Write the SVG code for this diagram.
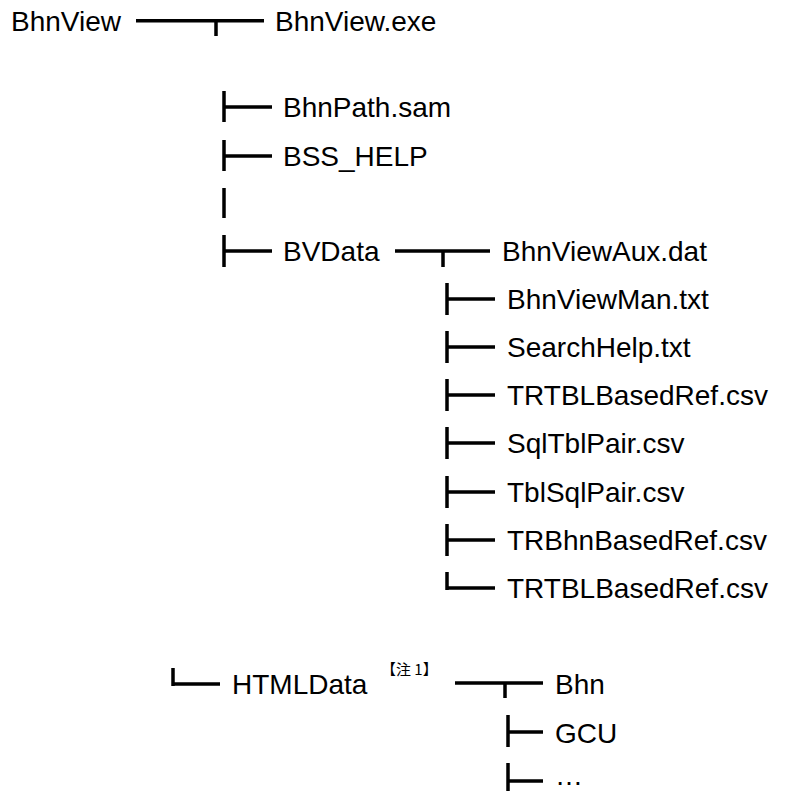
<svg xmlns="http://www.w3.org/2000/svg" width="785" height="791" viewBox="0 0 785 791">
<style>
  .t { font-family: "Liberation Sans", Arial, sans-serif; font-size: 28px; fill: #000; }
  .n { font-family: "Noto Sans CJK JP", "Liberation Sans", sans-serif; font-size: 15px; fill: #000; }
  .c { stroke: #000; stroke-width: 3.5; fill: none; stroke-linecap: butt; }
</style>
<rect width="785" height="791" fill="#fff"/>
<g id="connectors">
  <path class="c" d="M136 20.7H264M216 20.7V36"/>
  <path class="c" d="M224 91V122M224 107H272"/>
  <path class="c" d="M224 140V171M224 156H272"/>
  <path class="c" d="M224 188V218"/>
  <path class="c" d="M224 235V267M224 251H272"/>
  <path class="c" d="M395 251H490M443 251V267"/>
  <path class="c" d="M447 283V315M447 299H495"/>
  <path class="c" d="M447 331V363M447 347H495"/>
  <path class="c" d="M447 379V411M447 395H495"/>
  <path class="c" d="M447 427V459M447 443H495"/>
  <path class="c" d="M447 476V508M447 492H495"/>
  <path class="c" d="M447 524V556M447 540H495"/>
  <path class="c" d="M447 572V590M445.25 588H495"/>
  <path class="c" d="M173 668V686M171.25 684H220"/>
  <path class="c" d="M455 683H543M505 683V698"/>
  <path class="c" d="M508 715V747M508 732H543"/>
  <path class="c" d="M508 763V795M508 781H543"/>
</g>
<g id="n-bhnview"><text class="t" x="11" y="31">BhnView</text></g>
<g id="n-bhnview-exe"><text class="t" x="275" y="31">BhnView.exe</text></g>
<g id="n-bhnpath"><text class="t" x="283" y="117">BhnPath.sam</text></g>
<g id="n-bss-help"><text class="t" x="283" y="166">BSS_HELP</text></g>
<g id="n-bvdata"><text class="t" x="283" y="261">BVData</text></g>
<g id="n-bhnviewaux"><text class="t" x="502" y="261">BhnViewAux.dat</text></g>
<g id="n-bhnviewman"><text class="t" x="507" y="309">BhnViewMan.txt</text></g>
<g id="n-searchhelp"><text class="t" x="507" y="357">SearchHelp.txt</text></g>
<g id="n-trtbl1"><text class="t" x="507" y="405">TRTBLBasedRef.csv</text></g>
<g id="n-sqltblpair"><text class="t" x="507" y="453">SqlTblPair.csv</text></g>
<g id="n-tblsqlpair"><text class="t" x="507" y="502">TblSqlPair.csv</text></g>
<g id="n-trbhn"><text class="t" x="507" y="550">TRBhnBasedRef.csv</text></g>
<g id="n-trtbl2"><text class="t" x="507" y="598">TRTBLBasedRef.csv</text></g>
<g id="n-htmldata"><text class="t" x="232" y="694">HTMLData</text><text class="n" x="381" y="675">【注 1】</text></g>
<g id="n-bhn"><text class="t" x="555" y="694">Bhn</text></g>
<g id="n-gcu"><text class="t" x="555" y="743">GCU</text></g>
<g id="n-etc"><text class="t" x="555" y="785">…</text></g>
</svg>
